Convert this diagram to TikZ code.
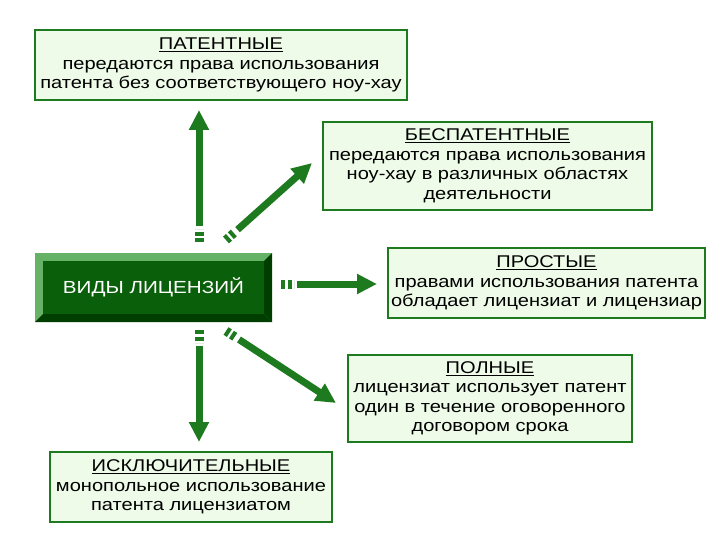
\documentclass[tikz,border=0pt]{standalone}
\usepackage{fontspec}
\setmainfont{Liberation Sans}[FakeStretch=1.18]
\usetikzlibrary{arrows.meta,calc}
\definecolor{dg}{HTML}{1E7A1E}
\definecolor{bg}{HTML}{EEFBE8}
\definecolor{mainc}{HTML}{0A5F0A}
\tikzset{
 info/.style={draw=dg,line width=2pt,fill=bg,align=center,font=\fontsize{17}{19.5}\selectfont,inner sep=0pt},
 arr/.style={draw=dg,line width=7pt,-{Triangle[length=20pt,width=19pt]}},
 tailb/.style={draw=dg,line width=9pt,dash pattern=on 4pt off 2.5pt on 4pt off 2.5pt},
}
\newcommand{\ttl}[1]{\underline{#1}}
\begin{document}
\begin{tikzpicture}[x=1pt,y=-1pt]
\useasboundingbox (0,0) rectangle (720,540);
\node[info,minimum width=372,minimum height=70] (pat) at (221,65) {\ttl{ПАТЕНТНЫЕ}\\передаются права использования\\патента без соответствующего ноу-хау};
\node[info,minimum width=329,minimum height=88] (bes) at (487.5,166) {\ttl{БЕСПАТЕНТНЫЕ}\\передаются права использования\\ноу-хау в различных областях\\деятельности};
\node[info,minimum width=317,minimum height=70] (pro) at (546.5,283) {\ttl{ПРОСТЫЕ}\\правами использования патента\\обладает лицензиат и лицензиар};
\node[info,minimum width=284,minimum height=87] (pol) at (490,398.5) {\ttl{ПОЛНЫЕ}\\лицензиат использует патент\\один в течение оговоренного\\договором срока};
\node[info,minimum width=282,minimum height=70] (isk) at (191,487) {\ttl{ИСКЛЮЧИТЕЛЬНЫЕ}\\монопольное использование\\патента лицензиатом};
% main beveled box
\fill[green!45!black!70] (35,253) rectangle (272,322);
\fill[green!50!black!60!white] (35,253) -- (272,253) -- (264,261) -- (43,261) -- cycle;
\fill[green!50!black!60!white] (35,253) -- (43,261) -- (43,314) -- (35,322) -- cycle;
\fill[black!30!green!35!black] (272,253) -- (272,322) -- (264,314) -- (264,261) -- cycle;
\fill[black!30!green!35!black] (35,322) -- (272,322) -- (264,314) -- (43,314) -- cycle;
\node[fill=mainc,minimum width=221,minimum height=53,inner sep=0pt,text=white,font=\fontsize{17.5}{20}\selectfont] (main) at (153.5,287.5) {ВИДЫ ЛИЦЕНЗИЙ};
% arrows
\coordinate (u0) at (199,242); \coordinate (u1) at (199,110);
\coordinate (n0) at (226,240); \coordinate (n1) at (312,163);
\coordinate (r0) at (281,284); \coordinate (r1) at (377,284);
\coordinate (s0) at (226,331); \coordinate (s1) at (336,403);
\coordinate (d0) at (199,330); \coordinate (d1) at (199,442);
\foreach \a/\b in {u0/u1,n0/n1,r0/r1,s0/s1,d0/d1}{
 \draw[tailb] (\a) -- ($(\a)!13pt!(\b)$);
 \draw[arr] ($(\a)!15.5pt!(\b)$) -- (\b);
}
\end{tikzpicture}
\end{document}
